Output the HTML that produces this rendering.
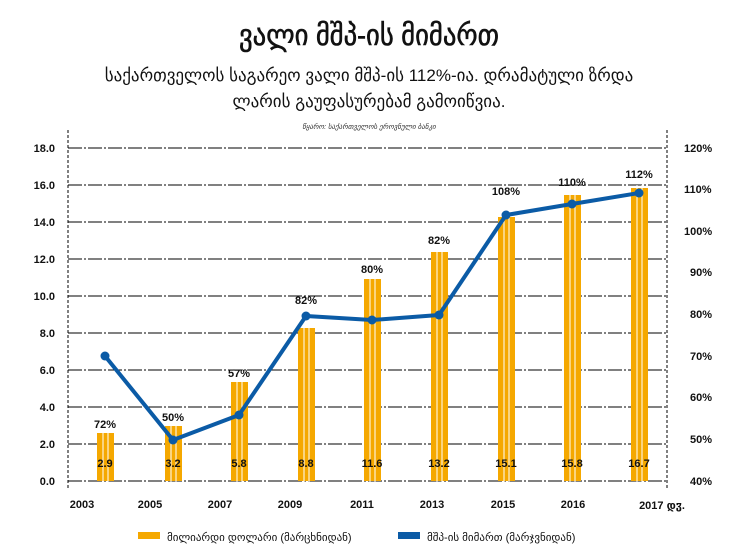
<!DOCTYPE html>
<html><head><meta charset="utf-8"><style>
body{margin:0;background:#fff;width:739px;height:557px;overflow:hidden}
svg{display:block}
text{font-family:"Liberation Sans","DejaVu Sans",sans-serif}
</style></head><body>
<svg width="739" height="557" viewBox="0 0 739 557">
<text x="369" y="45" text-anchor="middle" font-size="29" fill="#111" transform="translate(369,0) scale(0.92,1) translate(-369,0)" stroke="#111" stroke-width="0.6">ვალი მშპ-ის მიმართ</text>
<text x="369" y="81" text-anchor="middle" font-size="17" fill="#111">საქართველოს საგარეო ვალი მშპ-ის 112%-ია. დრამატული ზრდა</text>
<text x="369" y="107" text-anchor="middle" font-size="17" fill="#111">ლარის გაუფასურებამ გამოიწვია.</text>
<text x="369" y="129" text-anchor="middle" font-size="7" font-style="italic" fill="#333">წყარო: საქართველოს ეროვნული ბანკი</text>
<g stroke="#000" stroke-width="1" stroke-dasharray="14,2,2,2">
<line x1="68" x2="667" y1="148" y2="148"/><line x1="68" x2="667" y1="185" y2="185"/>
<line x1="68" x2="667" y1="222" y2="222"/><line x1="68" x2="667" y1="259" y2="259"/>
<line x1="68" x2="667" y1="296" y2="296"/><line x1="68" x2="667" y1="333" y2="333"/>
<line x1="68" x2="667" y1="370" y2="370"/><line x1="68" x2="667" y1="407" y2="407"/>
<line x1="68" x2="667" y1="444" y2="444"/><line x1="68" x2="667" y1="481" y2="481"/>
</g>
<g stroke="#000" stroke-width="1" stroke-dasharray="3,2">
<line x1="68" x2="68" y1="130" y2="490"/><line x1="667" x2="667" y1="130" y2="490"/>
</g>
<g font-size="11" font-weight="bold" fill="#111" text-anchor="end">
<text x="55" y="152">18.0</text><text x="55" y="189">16.0</text><text x="55" y="226">14.0</text>
<text x="55" y="263">12.0</text><text x="55" y="300">10.0</text><text x="55" y="337">8.0</text>
<text x="55" y="374">6.0</text><text x="55" y="411">4.0</text><text x="55" y="448">2.0</text><text x="55" y="485">0.0</text>
</g>
<g font-size="11" font-weight="bold" fill="#111" text-anchor="start">
<text x="684" y="152">120%</text><text x="684" y="193">110%</text><text x="684" y="235">100%</text>
<text x="690" y="276">90%</text><text x="690" y="318">80%</text><text x="690" y="360">70%</text>
<text x="690" y="401">60%</text><text x="690" y="443">50%</text><text x="690" y="485">40%</text>
</g>
<g fill="#f5a800">
<rect x="97" y="433" width="17" height="48"/><rect x="165" y="426" width="17" height="55"/>
<rect x="231" y="382" width="17" height="99"/><rect x="298" y="328" width="17" height="153"/>
<rect x="364" y="279" width="17" height="202"/><rect x="431" y="252" width="17" height="229"/>
<rect x="498" y="217" width="17" height="264"/><rect x="564" y="195" width="17" height="286"/>
<rect x="631" y="188" width="17" height="293"/>
</g>
<g stroke="#fff" stroke-width="1">
<line x1="103" x2="103" y1="430" y2="482"/><line x1="108" x2="108" y1="430" y2="482"/>
<line x1="171" x2="171" y1="420" y2="482"/><line x1="176" x2="176" y1="420" y2="482"/>
<line x1="237" x2="237" y1="380" y2="482"/><line x1="242" x2="242" y1="380" y2="482"/>
<line x1="304" x2="304" y1="320" y2="482"/><line x1="309" x2="309" y1="320" y2="482"/>
<line x1="370" x2="370" y1="270" y2="482"/><line x1="375" x2="375" y1="270" y2="482"/>
<line x1="437" x2="437" y1="250" y2="482"/><line x1="442" x2="442" y1="250" y2="482"/>
<line x1="504" x2="504" y1="210" y2="482"/><line x1="509" x2="509" y1="210" y2="482"/>
<line x1="570" x2="570" y1="190" y2="482"/><line x1="575" x2="575" y1="190" y2="482"/>
<line x1="637" x2="637" y1="185" y2="482"/><line x1="642" x2="642" y1="185" y2="482"/>
</g>
<polyline fill="none" stroke="#0b5ba6" stroke-width="4" stroke-linejoin="round" points="105,356 173,440 239,415 306,316 372,320 439,315 506,215 572,204 639,193"/>
<g fill="#0b5ba6">
<circle cx="105" cy="356" r="4.5"/><circle cx="173" cy="440" r="4.5"/><circle cx="239" cy="415" r="4.5"/>
<circle cx="306" cy="316" r="4.5"/><circle cx="372" cy="320" r="4.5"/><circle cx="439" cy="315" r="4.5"/>
<circle cx="506" cy="215" r="4.5"/><circle cx="572" cy="204" r="4.5"/><circle cx="639" cy="193" r="4.5"/>
</g>
<g font-size="11" font-weight="bold" fill="#111" text-anchor="middle">
<text x="105" y="428">72%</text><text x="173" y="421">50%</text><text x="239" y="377">57%</text>
<text x="306" y="304">82%</text><text x="372" y="273">80%</text><text x="439" y="244">82%</text>
<text x="506" y="195">108%</text><text x="572" y="186">110%</text><text x="639" y="178">112%</text>
<text x="105" y="467">2.9</text><text x="173" y="467">3.2</text><text x="239" y="467">5.8</text>
<text x="306" y="467">8.8</text><text x="372" y="467">11.6</text><text x="439" y="467">13.2</text>
<text x="506" y="467">15.1</text><text x="572" y="467">15.8</text><text x="639" y="467">16.7</text>
<text x="82" y="508">2003</text><text x="150" y="508">2005</text><text x="220" y="508">2007</text>
<text x="290" y="508">2009</text><text x="362" y="508">2011</text><text x="432" y="508">2013</text>
<text x="503" y="508">2015</text><text x="573" y="508">2016</text><text x="662" y="509">2017 დჳ.</text>
</g>
<rect x="138" y="532" width="22" height="7" fill="#f5a800"/>
<text x="167" y="541" font-size="11" fill="#111">მილიარდი დოლარი (მარცხნიდან)</text>
<rect x="398" y="532" width="22" height="7" fill="#0b5ba6"/>
<text x="427" y="541" font-size="11" fill="#111">მშპ-ის მიმართ (მარჯვნიდან)</text>
</svg>
</body></html>
